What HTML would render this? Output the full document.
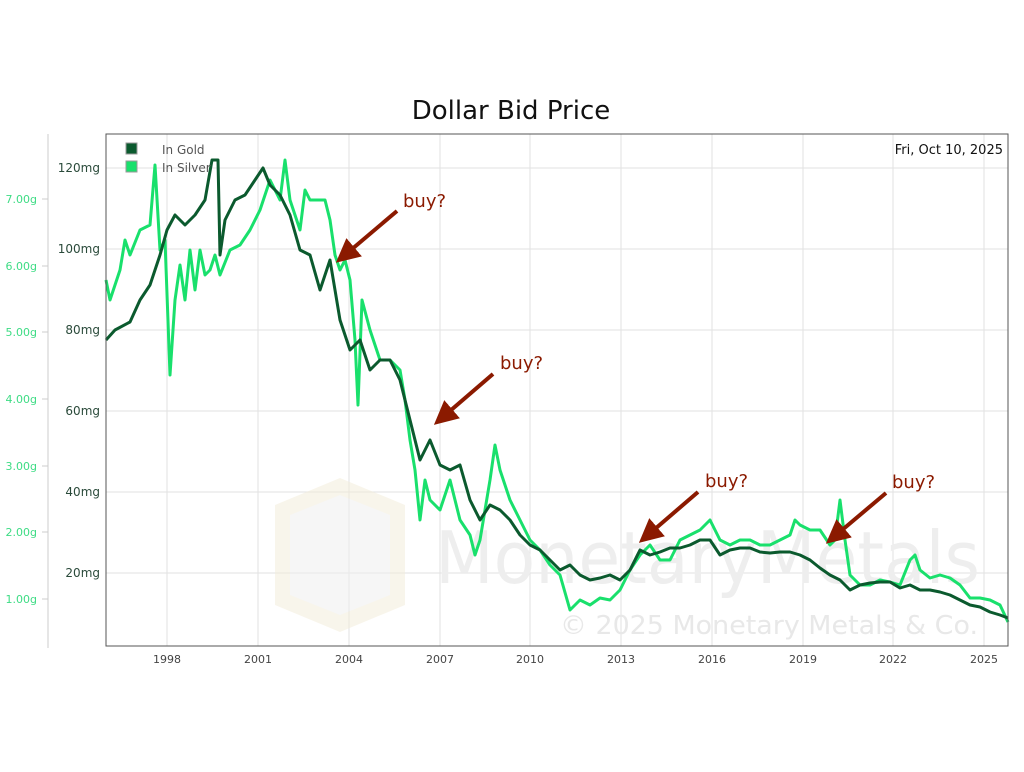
<!DOCTYPE html>
<html><head><meta charset="utf-8"><style>
body{margin:0;background:#fff;width:1024px;height:768px;overflow:hidden;font-family:"DejaVu Sans","Liberation Sans",sans-serif}
</style></head><body>
<svg width="1024" height="768" xmlns="http://www.w3.org/2000/svg" font-family="DejaVu Sans, Liberation Sans, sans-serif">
<text x="511" y="119" font-size="26" text-anchor="middle" fill="#111">Dollar Bid Price</text>
<line x1="48" y1="134" x2="48" y2="648" stroke="#ccc"/>
<g font-size="11" fill="#3ddc84" text-anchor="end">
<text x="37" y="203">7.00g</text><text x="37" y="270">6.00g</text><text x="37" y="336">5.00g</text>
<text x="37" y="403">4.00g</text><text x="37" y="470">3.00g</text><text x="37" y="536">2.00g</text><text x="37" y="603">1.00g</text>
</g>
<g stroke="#ccc"><line x1="42" y1="199" x2="48" y2="199"/><line x1="42" y1="266" x2="48" y2="266"/><line x1="42" y1="332" x2="48" y2="332"/><line x1="42" y1="399" x2="48" y2="399"/><line x1="42" y1="466" x2="48" y2="466"/><line x1="42" y1="532" x2="48" y2="532"/><line x1="42" y1="599" x2="48" y2="599"/></g>
<g stroke="#e2e2e2">
<line x1="106" y1="168" x2="1008" y2="168"/><line x1="106" y1="249" x2="1008" y2="249"/><line x1="106" y1="330" x2="1008" y2="330"/><line x1="106" y1="411" x2="1008" y2="411"/><line x1="106" y1="492" x2="1008" y2="492"/><line x1="106" y1="573" x2="1008" y2="573"/>
<line x1="167" y1="134" x2="167" y2="646"/><line x1="258" y1="134" x2="258" y2="646"/><line x1="349" y1="134" x2="349" y2="646"/><line x1="440" y1="134" x2="440" y2="646"/><line x1="530" y1="134" x2="530" y2="646"/><line x1="621" y1="134" x2="621" y2="646"/><line x1="712" y1="134" x2="712" y2="646"/><line x1="803" y1="134" x2="803" y2="646"/><line x1="893" y1="134" x2="893" y2="646"/><line x1="984" y1="134" x2="984" y2="646"/>
</g>
<g font-size="12" fill="#2a4a3a" text-anchor="end">
<text x="100" y="172">120mg</text><text x="100" y="253">100mg</text><text x="100" y="334">80mg</text><text x="100" y="415">60mg</text><text x="100" y="496">40mg</text><text x="100" y="577">20mg</text>
</g>
<g font-size="11" fill="#444" text-anchor="middle">
<text x="167" y="663">1998</text><text x="258" y="663">2001</text><text x="349" y="663">2004</text><text x="440" y="663">2007</text><text x="530" y="663">2010</text><text x="621" y="663">2013</text><text x="712" y="663">2016</text><text x="803" y="663">2019</text><text x="893" y="663">2022</text><text x="984" y="663">2025</text>
</g>
<g opacity="0.5">
<polygon points="275,505 340,478 405,505 405,605 340,632 275,605" fill="#f3ecd8"/>
<polygon points="290,515 340,495 390,515 390,595 340,615 290,595" fill="#eee"/>
</g>
<text x="435" y="583" font-size="72" fill="#eeeeee" textLength="545" lengthAdjust="spacingAndGlyphs">MonetaryMetals</text>
<text x="560" y="634" font-size="26" fill="#e8e8e8" textLength="418" lengthAdjust="spacingAndGlyphs">© 2025 Monetary Metals &amp; Co.</text>
<g fill="none" stroke-width="3" stroke-linejoin="round">
<polyline stroke="#19e06c" points="106,280 110,300 120,270 125,240 130,255 140,230 150,225 155,165 160,250 165,240 170,375 175,300 180,265 185,300 190,250 195,290 200,250 205,275 210,270 215,255 220,275 230,250 240,245 250,230 260,210 270,180 280,200 285,160 290,200 300,230 305,190 310,200 315,200 325,200 330,220 335,255 340,270 345,260 350,280 355,340 358,405 362,300 370,330 380,360 390,360 400,370 405,400 410,440 415,470 420,520 425,480 430,500 440,510 450,480 460,520 470,535 475,555 480,540 490,480 495,445 500,470 510,500 520,520 530,540 540,550 550,565 560,575 570,610 580,600 590,605 600,598 610,600 620,590 630,570 640,555 650,545 660,560 670,560 680,540 690,535 700,530 710,520 720,540 730,545 740,540 750,540 760,545 770,545 780,540 790,535 795,520 800,525 810,530 820,530 830,545 835,540 840,500 845,540 850,575 860,585 870,585 880,580 890,582 900,585 910,560 915,555 920,570 930,578 940,575 950,578 960,585 970,598 980,598 990,600 1000,605 1008,622"/>
<polyline stroke="#0b5a2e" points="106,340 115,330 130,322 140,300 150,285 160,255 167,230 175,215 185,225 195,215 205,200 212,160 218,160 220,255 225,220 235,200 245,195 255,180 263,168 270,185 280,195 290,215 300,250 310,255 320,290 330,260 340,320 350,350 360,340 370,370 380,360 390,360 400,380 410,420 420,460 430,440 440,465 450,470 460,465 470,500 480,520 490,505 500,510 510,520 520,535 530,545 540,550 550,560 560,570 570,565 580,575 590,580 600,578 610,575 620,580 630,570 640,550 650,555 660,552 670,548 680,548 690,545 700,540 710,540 720,555 730,550 740,548 750,548 760,552 770,553 780,552 790,552 800,555 810,560 820,568 830,575 840,580 850,590 860,585 870,583 880,582 890,582 900,588 910,585 920,590 930,590 940,592 950,595 960,600 970,605 980,607 990,612 1000,615 1008,618"/>
</g>
<rect x="106" y="134" width="902" height="512" fill="none" stroke="#555"/>
<rect x="126" y="143" width="11" height="11" fill="#0b5a2e" stroke="#999"/>
<rect x="126" y="161" width="11" height="11" fill="#19e06c" stroke="#999"/>
<text x="162" y="154" font-size="12" fill="#555">In Gold</text>
<text x="162" y="172" font-size="12" fill="#555">In Silver</text>
<text x="1003" y="154" font-size="13" fill="#111" text-anchor="end">Fri, Oct 10, 2025</text>
<defs><marker id="a" markerWidth="6" markerHeight="6" refX="3" refY="3" orient="auto"><path d="M0,0 L6,3 L0,6 z" fill="#8b1a00"/></marker></defs>
<g stroke="#8b1a00" stroke-width="4" marker-end="url(#a)">
<line x1="397" y1="211" x2="345" y2="255"/>
<line x1="493" y1="374" x2="443" y2="417"/>
<line x1="698" y1="492" x2="648" y2="535"/>
<line x1="886" y1="493" x2="835" y2="536"/>
</g>
<g font-size="18" fill="#8b1a00">
<text x="403" y="207">buy?</text><text x="500" y="369">buy?</text><text x="705" y="487">buy?</text><text x="892" y="488">buy?</text>
</g>
</svg>
</body></html>
